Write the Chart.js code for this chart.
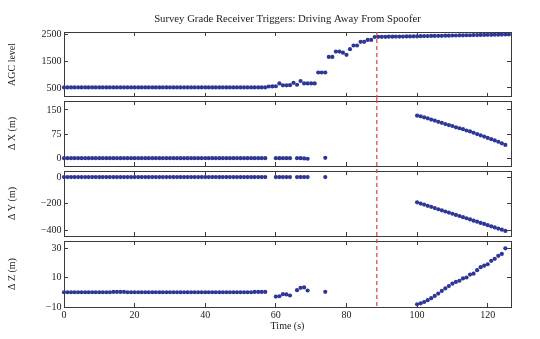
<!DOCTYPE html>
<html>
<head>
<meta charset="utf-8">
<script src="https://cdn.jsdelivr.net/npm/chart.js@4"></script>
<style>
  html, body { margin: 0; padding: 0; background: #fff; }
  #figure { position: relative; width: 540px; height: 339px; }
  #figure canvas { position: absolute; left: 0; }
</style>
</head>
<body>
<div id="figure">
  <canvas id="agcChart" width="540" height="99" style="top:0px"></canvas>
  <canvas id="dxChart" width="540" height="70" style="top:99px"></canvas>
  <canvas id="dyChart" width="540" height="70" style="top:169px"></canvas>
  <canvas id="dzChart" width="540" height="100" style="top:239px"></canvas>
</div>
<script>
const chartTitle = "Survey Grade Receiver Triggers: Driving Away From Spoofer";
const timeTicks = [0, 20, 40, 60, 80, 100, 120];
const triggerTime = 88.6;

// 1 Hz sample times
function seconds(from, to) {
  const out = [];
  for (let t = from; t <= to; t++) out.push(t);
  return out;
}

const agcTime = seconds(0, 126);
const agcLevel = [
  520, 520, 520, 520, 520, 520, 520, 520, 520, 520,
  520, 520, 520, 520, 520, 520, 520, 520, 520, 520,
  520, 520, 520, 520, 520, 520, 520, 520, 520, 520,
  520, 520, 520, 520, 520, 520, 520, 520, 520, 520,
  520, 520, 520, 520, 520, 520, 520, 520, 520, 520,
  520, 520, 520, 520, 520, 520, 520, 520,
  555, 560, 565, 670, 600, 600, 605, 690, 620, 760,
  670, 670, 670, 670, 1075, 1075, 1075, 1650, 1650, 1850,
  1850, 1810, 1730, 1940, 2075, 2075, 2210, 2210, 2280, 2280,
  2390, 2395, 2395, 2395, 2400, 2400, 2405, 2405, 2405, 2410,
  2410, 2415, 2415, 2420, 2425, 2425, 2430, 2430, 2435, 2435,
  2440, 2440, 2445, 2445, 2450, 2450, 2455, 2455, 2460, 2460,
  2465, 2465, 2470, 2470, 2475, 2475, 2478, 2482, 2486
];

const posTime = [...seconds(0, 57), 60, 61, 62, 63, 64, 66, 67, 68, 69, 74, ...seconds(100, 125)];
const deltaX = [
  0, 0, 0, 0, 0, 0, 0, 0, 0, 0, 0, 0, 0, 0, 0, 0, 0, 0, 0, 0,
  0, 0, 0, 0, 0, 0, 0, 0, 0, 0, 0, 0, 0, 0, 0, 0, 0, 0, 0, 0,
  0, 0, 0, 0, 0, 0, 0, 0, 0, 0, 0, 0, 0, 0, 0, 0, 0, 0,
  0, 0, 0, 0, 0, 0, 0, -1, -2, 1,
  132, 130, 127, 124, 120, 117, 113, 110, 106, 103,
  100, 96, 93, 90, 86, 83, 79, 75, 71, 67,
  63, 59, 55, 51, 46, 41
];
const deltaY = [
  0, 0, 0, 0, 0, 0, 0, 0, 0, 0, 0, 0, 0, 0, 0, 0, 0, 0, 0, 0,
  0, 0, 0, 0, 0, 0, 0, 0, 0, 0, 0, 0, 0, 0, 0, 0, 0, 0, 0, 0,
  0, 0, 0, 0, 0, 0, 0, 0, 0, 0, 0, 0, 0, 0, 0, 0, 0, 0,
  0, 0, 0, 0, 0, 0, 0, 0, 0, 0,
  -191, -200, -208, -217, -225, -234, -243, -251, -260, -268,
  -277, -286, -294, -303, -311, -320, -329, -337, -346, -354,
  -363, -372, -380, -389, -397, -407
];
const deltaZ = [
  0, 0, 0, 0, 0, 0, 0, 0, 0, 0, 0, 0, 0, 0, 0.2, 0.2, 0.2, 0.2, 0, 0,
  0, 0, 0, 0, 0, 0, 0, 0, 0, 0, 0, 0, 0, 0, 0, 0, 0, 0, 0, 0,
  0, 0, 0, 0, 0, 0, 0, 0, 0, 0, 0, 0, 0, 0, 0.2, 0.2, 0.2, 0.2,
  -2.9, -2.7, -1.3, -1.5, -2.2, 1.4, 3.0, 3.3, 1.2, 0.3,
  -8.2, -7.5, -6.6, -5.4, -4.0, -2.5, -0.9, 0.9, 2.6, 4.2,
  5.8, 7.0, 7.8, 9.4, 10.0, 12.0, 12.6, 15.0, 17.0, 18.0,
  19.0, 21.3, 22.7, 24.7, 26.0, 29.8
];

const agcTicks = [500, 1500, 2500];
const xTicks = [0, 75, 150];
const yTicks = [-400, -200, 0];
const zTicks = [-10, 10, 30];

const serif = "'Liberation Serif', 'Times New Roman', serif";
const ink = "#1a1a1a";
const frame = "#3a3a3a";
const dotColor = "#2e3796";
const lineColor = "#d2462c";

function fixSize(prop, size) {
  return (scale) => {
    scale[prop] = size;
    scale.paddingTop = 0;
    scale.paddingBottom = 0;
    scale.paddingLeft = 0;
    scale.paddingRight = 0;
  };
}
function useTicks(values) {
  return (scale) => {
    scale.ticks = values.map((v) => ({ value: v }));
  };
}
// plain numbers, typographic minus
const plain = (v) => String(v).replace("-", "\u2212");

const triggerLine = {
  id: "triggerLine",
  afterDatasetsDraw(chart, args, opts) {
    const { ctx, chartArea } = chart;
    const px = chart.scales.x.getPixelForValue(triggerTime);
    const top = opts.first ? chartArea.top : 0;
    const bottom = opts.last ? chartArea.bottom : chart.height;
    ctx.save();
    ctx.strokeStyle = lineColor;
    ctx.lineWidth = 1.2;
    ctx.setLineDash([4, 3]);
    ctx.beginPath();
    ctx.moveTo(px, top);
    ctx.lineTo(px, bottom);
    ctx.stroke();
    ctx.restore();
  },
};

function makePanel(id, p) {
  const edge = { drawOnChartArea: false, tickLength: -4, color: frame, lineWidth: 1 };
  const border = { color: frame, width: 1 };
  const font = { family: serif, size: 10 };
  return new Chart(document.getElementById(id), {
    type: "scatter",
    data: {
      datasets: [
        {
          data: p.time.map((t, i) => ({ x: t, y: p.values[i] })),
          backgroundColor: dotColor,
          borderWidth: 0,
          pointRadius: 2.1,
          pointHoverRadius: 2.1,
          clip: false,
        },
      ],
    },
    options: {
      responsive: false,
      animation: false,
      layout: { padding: { left: 0, right: 28, top: 0, bottom: 0 } },
      plugins: {
        legend: { display: false },
        tooltip: { enabled: false },
        triggerLine: { first: p.first, last: p.last },
      },
      scales: {
        x: {
          type: "linear",
          position: "bottom",
          min: 0,
          max: 126.6,
          bounds: "data",
          afterBuildTicks: useTicks(timeTicks),
          afterFit: fixSize("height", p.bottom),
          grid: edge,
          border: border,
          ticks: { display: p.last, padding: 6.5, color: ink, font: font, callback: plain },
          title: {
            display: p.last,
            text: "Time (s)",
            color: ink,
            font: font,
            padding: { top: 0, bottom: 6.4 },
          },
        },
        xTop: {
          type: "linear",
          position: "top",
          min: 0,
          max: 126.6,
          bounds: "data",
          afterBuildTicks: useTicks(timeTicks),
          afterFit: fixSize("height", p.top),
          grid: edge,
          border: border,
          ticks: { display: false },
          title: {
            display: p.first,
            text: chartTitle,
            color: ink,
            font: { family: serif, size: 10.7 },
            padding: { top: 12.5, bottom: 0 },
          },
        },
        y: {
          type: "linear",
          position: "left",
          min: p.min,
          max: p.max,
          bounds: "data",
          afterBuildTicks: useTicks(p.ticks),
          afterFit: fixSize("width", 64),
          grid: edge,
          border: border,
          ticks: { padding: 6.5, color: ink, font: font, callback: plain },
          title: {
            display: true,
            text: p.label,
            color: ink,
            font: font,
            padding: { top: 6.4, bottom: 0 },
          },
        },
        yRight: {
          type: "linear",
          position: "right",
          min: p.min,
          max: p.max,
          bounds: "data",
          afterBuildTicks: useTicks(p.ticks),
          afterFit: fixSize("width", 1),
          grid: edge,
          border: border,
          ticks: { display: false },
        },
      },
    },
    plugins: [triggerLine],
  });
}

makePanel("agcChart", {
  time: agcTime, values: agcLevel, ticks: agcTicks, min: 170, max: 2575,
  label: "AGC level", top: 32, bottom: 2, first: true, last: false,
});
makePanel("dxChart", {
  time: posTime, values: deltaX, ticks: xTicks, min: -24.5, max: 177.5,
  label: "Δ X (m)", top: 1, bottom: 3, first: false, last: false,
});
makePanel("dyChart", {
  time: posTime, values: deltaY, ticks: yTicks, min: -445, max: 45,
  label: "Δ Y (m)", top: 2, bottom: 3, first: false, last: false,
});
makePanel("dzChart", {
  time: posTime, values: deltaZ, ticks: zTicks, min: -10, max: 34.7,
  label: "Δ Z (m)", top: 2, bottom: 32, first: false, last: true,
});
</script>
</body>
</html>
